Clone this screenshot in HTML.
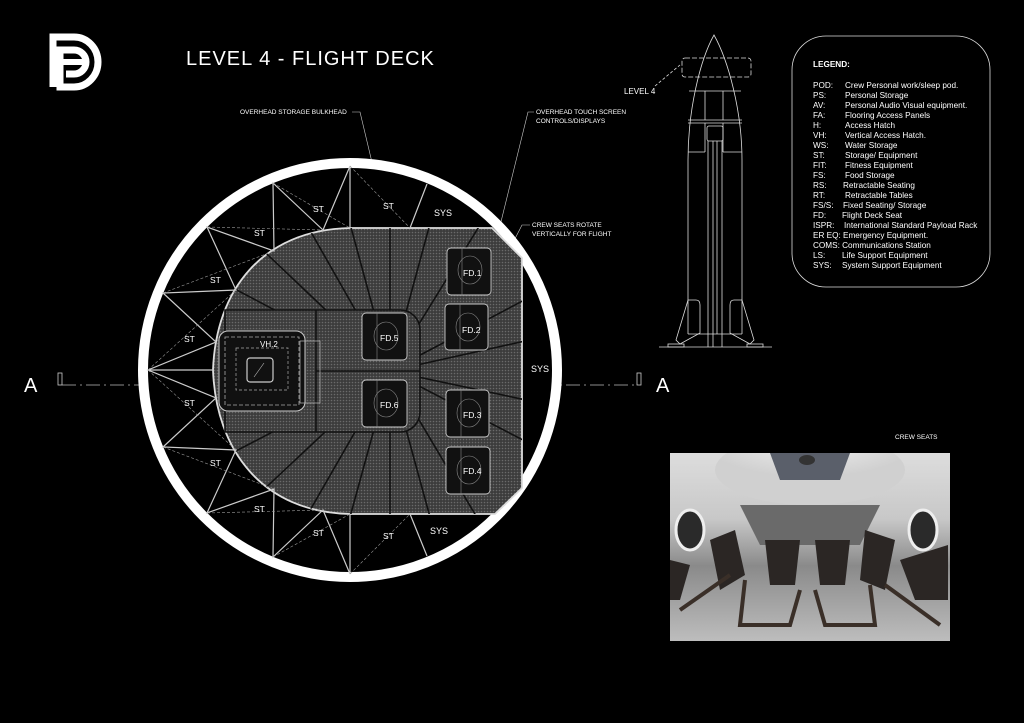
<!DOCTYPE html>
<html><head><meta charset="utf-8"><style>
html,body{margin:0;padding:0;background:#000;}
svg{display:block}
text{font-family:"Liberation Sans",sans-serif;fill:#fff}
</style></head><body>
<svg width="1024" height="723" viewBox="0 0 1024 723" xmlns="http://www.w3.org/2000/svg">
<defs>
<pattern id="dots" width="3" height="3" patternUnits="userSpaceOnUse">
<rect width="3" height="3" fill="#3c3c3c"/><circle cx="1.5" cy="1.5" r="0.8" fill="#6a6a6a"/>
</pattern>
<clipPath id="hc"><path d="M350,228 L492,228 L522,258 L522,488 L495,514 L350,514 C262,512 216,450 213,370 C216,290 262,230 350,228 Z"/></clipPath>
<clipPath id="pc"><rect x="670" y="453" width="280" height="188"/></clipPath>
<linearGradient id="ph" x1="0" y1="0" x2="0" y2="1">
<stop offset="0" stop-color="#ddd"/><stop offset="0.35" stop-color="#c8c8c8"/><stop offset="0.6" stop-color="#8a8a8a"/><stop offset="1" stop-color="#bdbdbd"/>
</linearGradient>
<radialGradient id="top" cx="0.5" cy="0" r="0.6"><stop offset="0" stop-color="#f4f4f4"/><stop offset="1" stop-color="#d0d0d0"/></radialGradient>
</defs>

<!-- logo -->
<g fill="none" stroke="#fff" stroke-width="7">
<path d="M53,87 V37 H74 A24,25 0 0 1 74,87 H60 V50 H74 A12,12 0 0 1 74,74 H66"/>
</g>
<path d="M60,62 H83" stroke="#fff" stroke-width="6"/>
<text x="186" y="65" font-size="20" letter-spacing="1">LEVEL 4 - FLIGHT DECK</text>

<!-- labels -->
<text x="240" y="114" font-size="6.5">OVERHEAD STORAGE BULKHEAD</text>
<path d="M352,112 H360 L390,238" stroke="#ccc" stroke-width="0.6" fill="none"/>
<text x="536" y="114" font-size="6.5">OVERHEAD TOUCH SCREEN</text>
<text x="536" y="123" font-size="6.5">CONTROLS/DISPLAYS</text>
<path d="M534,112 H528 L497,238" stroke="#ccc" stroke-width="0.6" fill="none"/>
<text x="532" y="227" font-size="6.5">CREW SEATS ROTATE</text>
<text x="532" y="236" font-size="6.5">VERTICALLY FOR FLIGHT</text>
<path d="M530,225 H522 L503,262" stroke="#ccc" stroke-width="0.6" fill="none"/>

<!-- section line -->
<text x="24" y="392" font-size="20">A</text>
<text x="656" y="392" font-size="20">A</text>
<path d="M62,385 H637" stroke="#bbb" stroke-width="0.8" stroke-dasharray="14,4,2,4" fill="none"/>
<rect x="58" y="373" width="4" height="12" fill="none" stroke="#ccc" stroke-width="0.8"/>
<rect x="637" y="373" width="4" height="12" fill="none" stroke="#ccc" stroke-width="0.8"/>

<!-- outer ring -->
<circle cx="350" cy="370" r="207" fill="#000" stroke="#fff" stroke-width="10"/>

<!-- hatched deck -->
<path d="M350,228 L492,228 L522,258 L522,488 L495,514 L350,514 C262,512 216,450 213,370 C216,290 262,230 350,228 Z" fill="url(#dots)" stroke="#ddd" stroke-width="1.8"/>
<g clip-path="url(#hc)" stroke="#111" stroke-width="1.6">
<line x1="390" y1="371" x2="390" y2="150"/><line x1="390" y1="371" x2="330" y2="150"/>
<line x1="390" y1="371" x2="270" y2="160"/><line x1="390" y1="371" x2="210" y2="200"/>
<line x1="390" y1="371" x2="180" y2="260"/><line x1="390" y1="371" x2="450" y2="150"/>
<line x1="390" y1="371" x2="520" y2="160"/><line x1="390" y1="371" x2="600" y2="260"/>
<line x1="390" y1="371" x2="620" y2="320"/><line x1="390" y1="371" x2="620" y2="420"/>
<line x1="390" y1="371" x2="600" y2="480"/><line x1="390" y1="371" x2="520" y2="590"/>
<line x1="390" y1="371" x2="450" y2="590"/><line x1="390" y1="371" x2="390" y2="590"/>
<line x1="390" y1="371" x2="330" y2="590"/><line x1="390" y1="371" x2="270" y2="580"/>
<line x1="390" y1="371" x2="210" y2="540"/><line x1="390" y1="371" x2="180" y2="480"/>
</g>
<!-- corridor -->
<path d="M225,310 H400 A20,20 0 0 1 420,330 V412 A20,20 0 0 1 400,432 H225 Z" fill="url(#dots)" stroke="#111" stroke-width="1.6"/>
<line x1="316" y1="310" x2="316" y2="432" stroke="#111" stroke-width="1.6"/>
<line x1="316" y1="371" x2="420" y2="371" stroke="#111" stroke-width="1.6"/>
<!-- VH2 -->
<rect x="219" y="331" width="86" height="80" rx="9" fill="#111" stroke="#ccc" stroke-width="1"/>
<rect x="225" y="337" width="74" height="68" fill="none" stroke="#aaa" stroke-width="0.8" stroke-dasharray="4,2"/>
<rect x="236" y="348" width="52" height="42" fill="none" stroke="#aaa" stroke-width="0.7" stroke-dasharray="3,2"/>
<rect x="247" y="358" width="26" height="24" rx="3" fill="none" stroke="#ccc" stroke-width="1.2"/>
<line x1="254" y1="377" x2="264" y2="363" stroke="#bbb" stroke-width="0.6"/>
<rect x="300" y="341" width="20" height="62" fill="none" stroke="#bbb" stroke-width="0.7"/>
<text x="260" y="347" font-size="8">VH.2</text>

<!-- seats -->
<g fill="#111" stroke="#ccc" stroke-width="0.9">
<rect x="447" y="248" width="44" height="47" rx="4"/>
<rect x="445" y="304" width="43" height="46" rx="4"/>
<rect x="362" y="313" width="45" height="47" rx="4"/>
<rect x="362" y="380" width="45" height="47" rx="4"/>
<rect x="446" y="390" width="43" height="47" rx="4"/>
<rect x="446" y="447" width="44" height="47" rx="4"/>
</g>
<g stroke="#888" stroke-width="0.6" fill="none">
<line x1="462" y1="248" x2="462" y2="295"/><line x1="460" y1="304" x2="460" y2="350"/>
<line x1="377" y1="313" x2="377" y2="360"/><line x1="377" y1="380" x2="377" y2="427"/>
<line x1="461" y1="390" x2="461" y2="437"/><line x1="461" y1="447" x2="461" y2="494"/>
<ellipse cx="470" cy="270" rx="12" ry="14"/><ellipse cx="468" cy="327" rx="12" ry="14"/>
<ellipse cx="386" cy="336" rx="12" ry="14"/><ellipse cx="386" cy="403" rx="12" ry="14"/>
<ellipse cx="469" cy="413" rx="12" ry="14"/><ellipse cx="469" cy="470" rx="12" ry="14"/>
</g>
<g font-size="8.5">
<text x="463" y="276">FD.1</text><text x="462" y="333">FD.2</text>
<text x="380" y="341">FD.5</text><text x="380" y="408">FD.6</text>
<text x="463" y="418">FD.3</text><text x="463" y="474">FD.4</text>
</g>

<!-- storage zig-zag -->
<g stroke="#ccc" stroke-width="1.2" fill="none">
<polyline points="350,166 323,230 273,183 274,251 207,227 236,290 163,293 216,342 148,370 216,398 163,447 236,450 207,513 274,489 273,557 323,510 350,574"/>
<line x1="350" y1="166" x2="350" y2="228"/><line x1="350" y1="574" x2="350" y2="514"/>
<line x1="427" y1="184" x2="410" y2="228"/><line x1="427" y1="556" x2="410" y2="514"/>
<line x1="148" y1="370" x2="213" y2="370"/>
</g>
<g stroke="#999" stroke-width="0.6" fill="none" stroke-dasharray="3,2">
<line x1="273" y1="183" x2="350" y2="228"/><line x1="207" y1="227" x2="323" y2="230"/>
<line x1="163" y1="293" x2="274" y2="251"/><line x1="148" y1="370" x2="236" y2="290"/>
<line x1="148" y1="370" x2="236" y2="450"/><line x1="163" y1="447" x2="274" y2="489"/>
<line x1="207" y1="513" x2="323" y2="510"/><line x1="273" y1="557" x2="350" y2="514"/>
<line x1="350" y1="166" x2="410" y2="228"/><line x1="350" y1="574" x2="410" y2="514"/>
</g>
<g font-size="8.5">
<text x="313" y="212">ST</text><text x="383" y="209">ST</text><text x="254" y="236">ST</text>
<text x="210" y="283">ST</text><text x="184" y="342">ST</text><text x="184" y="406">ST</text>
<text x="210" y="466">ST</text><text x="254" y="512">ST</text><text x="313" y="536">ST</text>
<text x="383" y="539">ST</text>
<text x="434" y="216" font-size="9">SYS</text><text x="430" y="534" font-size="9">SYS</text>
<text x="531" y="372" font-size="9">SYS</text>
</g>

<!-- rocket -->
<g stroke="#ddd" stroke-width="0.8" fill="none">
<path d="M688,334 V160 C688,110 700,60 714,35 C728,60 742,110 742,160 V334"/>
<rect x="682" y="58" width="69" height="19" rx="3" stroke-dasharray="5,2"/>
<line x1="689" y1="91" x2="741" y2="91"/>
<line x1="705" y1="91" x2="705" y2="120"/><line x1="723" y1="91" x2="723" y2="120"/>
<line x1="688" y1="120" x2="742" y2="120"/><line x1="688" y1="123" x2="742" y2="123"/>
<rect x="707" y="126" width="16" height="15" rx="2"/>
<line x1="705" y1="123" x2="705" y2="152"/><line x1="723" y1="123" x2="723" y2="152"/>
<line x1="688" y1="152" x2="705" y2="152"/><line x1="723" y1="152" x2="742" y2="152"/>
<line x1="708" y1="141" x2="708" y2="347"/><line x1="722" y1="141" x2="722" y2="347"/>
<line x1="713" y1="141" x2="713" y2="347"/><line x1="717" y1="141" x2="717" y2="334"/>
<line x1="688" y1="334" x2="742" y2="334"/>
<path d="M688,300 H696 Q700,300 700,305 V333 L680,344 L676,340 Z"/>
<path d="M742,300 H734 Q730,300 730,305 V333 L750,344 L754,340 Z"/>
<line x1="659" y1="347" x2="772" y2="347"/>
<rect x="668" y="344" width="16" height="3"/><rect x="747" y="344" width="16" height="3"/>
<path d="M655,86 L680,65" stroke-dasharray="3,2"/>
</g>
<text x="624" y="94" font-size="8">LEVEL 4</text>

<!-- legend -->
<rect x="792" y="36" width="198" height="251" rx="34" fill="none" stroke="#ddd" stroke-width="0.8"/>
<g font-size="8.2">
<text x="813" y="67" font-weight="bold">LEGEND:</text>
<text x="813" y="88">POD:</text><text x="845" y="88">Crew Personal work/sleep pod.</text>
<text x="813" y="98">PS:</text><text x="845" y="98">Personal Storage</text>
<text x="813" y="108">AV:</text><text x="845" y="108">Personal Audio Visual equipment.</text>
<text x="813" y="118">FA:</text><text x="845" y="118">Flooring Access Panels</text>
<text x="813" y="128">H:</text><text x="845" y="128">Access Hatch</text>
<text x="813" y="138">VH:</text><text x="845" y="138">Vertical Access Hatch.</text>
<text x="813" y="148">WS:</text><text x="845" y="148">Water Storage</text>
<text x="813" y="158">ST:</text><text x="845" y="158">Storage/ Equipment</text>
<text x="813" y="168">FIT:</text><text x="845" y="168">Fitness Equipment</text>
<text x="813" y="178">FS:</text><text x="845" y="178">Food Storage</text>
<text x="813" y="188">RS:</text><text x="843" y="188">Retractable Seating</text>
<text x="813" y="198">RT:</text><text x="845" y="198">Retractable Tables</text>
<text x="813" y="208">FS/S:</text><text x="843" y="208">Fixed Seating/ Storage</text>
<text x="813" y="218">FD:</text><text x="842" y="218">Flight Deck Seat</text>
<text x="813" y="228">ISPR:</text><text x="844" y="228">International Standard Payload Rack</text>
<text x="813" y="238">ER EQ: Emergency Equipment.</text>
<text x="813" y="248">COMS: Communications Station</text>
<text x="813" y="258">LS:</text><text x="842" y="258">Life Support Equipment</text>
<text x="813" y="268">SYS:</text><text x="842" y="268">System Support Equipment</text>
</g>

<!-- photo -->
<text x="895" y="439" font-size="6.5">CREW SEATS</text>
<g clip-path="url(#pc)">
<rect x="670" y="453" width="280" height="188" fill="url(#ph)"/>
<ellipse cx="810" cy="470" rx="95" ry="35" fill="url(#top)"/>
<path d="M770,453 H850 L840,480 H780 Z" fill="#5a5f6a"/>
<ellipse cx="807" cy="460" rx="8" ry="5" fill="#333"/>
<path d="M740,505 H880 L860,545 H760 Z" fill="#6a6a6a"/>
<ellipse cx="690" cy="530" rx="14" ry="20" fill="#2a2a2a" stroke="#eee" stroke-width="3"/>
<ellipse cx="923" cy="530" rx="14" ry="20" fill="#2a2a2a" stroke="#eee" stroke-width="3"/>
<g fill="#2b2624">
<path d="M710,540 L735,530 L745,575 L720,590 Z"/>
<path d="M765,540 H800 L795,585 H770 Z"/>
<path d="M815,540 H850 L845,585 H820 Z"/>
<path d="M865,530 L895,540 L885,590 L860,580 Z"/>
<path d="M900,560 L948,545 L948,600 L915,600 Z"/>
<path d="M670,560 L690,565 L680,600 L670,600 Z"/>
</g>
<g fill="none" stroke="#3a2f28" stroke-width="4">
<path d="M745,580 L740,625 H790 L800,590"/>
<path d="M815,590 L825,625 H875 L870,585"/>
<path d="M730,575 L680,610"/><path d="M885,585 L940,625"/>
</g>
</g>
</svg>
</body></html>
